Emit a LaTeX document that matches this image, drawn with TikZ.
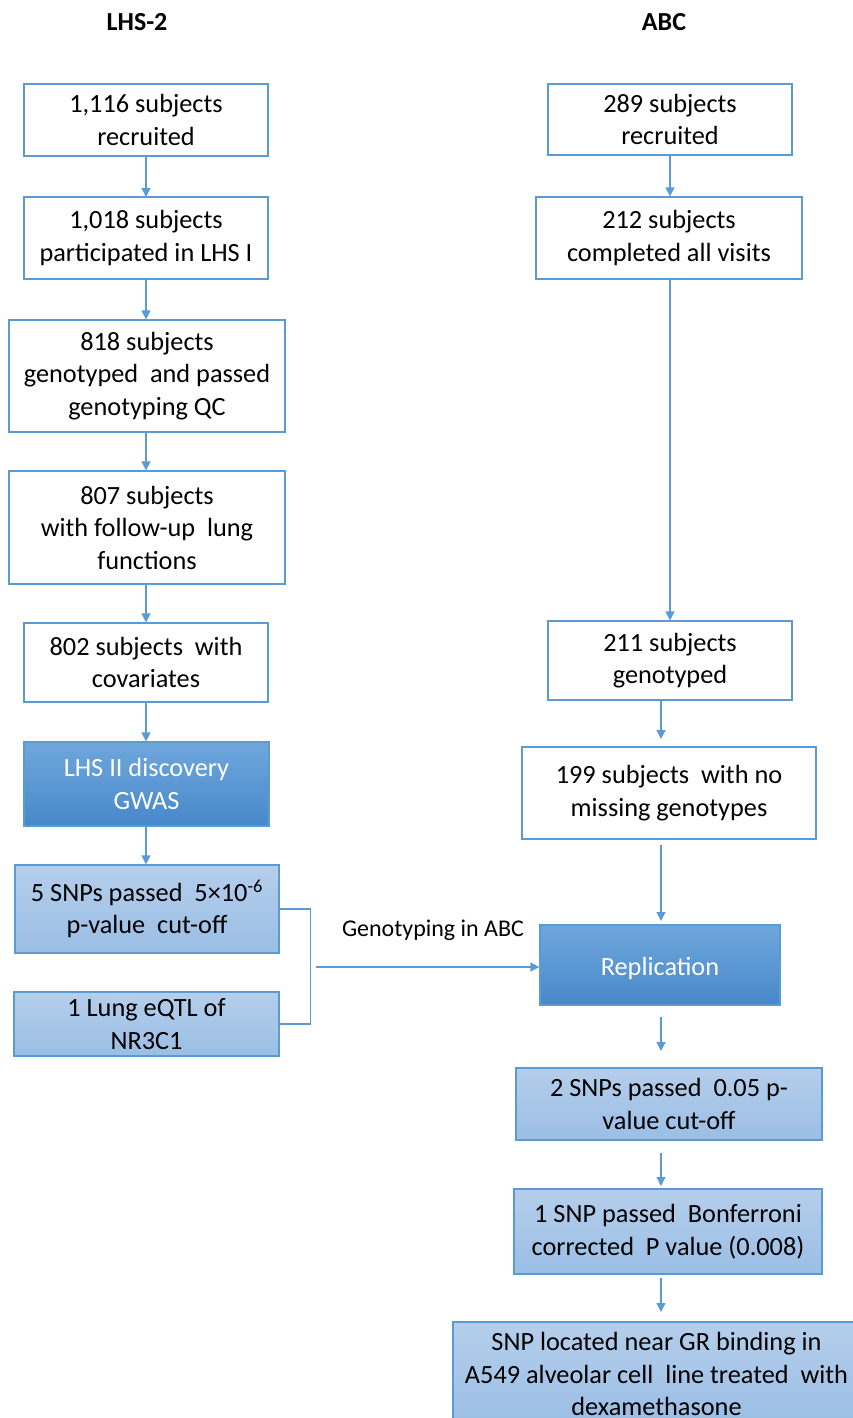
\documentclass[tikz,border=0pt]{standalone}
\usepackage{fontspec}
\setmainfont{Carlito}
\usetikzlibrary{arrows.meta}
\definecolor{boxline}{HTML}{5B9BD5}
\definecolor{arrc}{HTML}{5B9BD5}
\definecolor{dtop}{HTML}{6FA7DC}
\definecolor{dbot}{HTML}{4788CA}
\definecolor{ltop}{HTML}{B5CEEB}
\definecolor{lbot}{HTML}{9ABEE5}
\newcommand\boxfont{\fontsize{26.3}{32.5}\selectfont}
\tikzset{
  box/.style={draw=boxline, line width=1.2pt, fill=white, align=center, inner sep=0pt, font=\boxfont, text=black,
    execute at begin node={\rule{0pt}{25.5pt}}},
  darkbox/.style={box, top color=dtop, bottom color=dbot, text=white},
  lightbox/.style={box, top color=ltop, bottom color=lbot},
  conn/.style={draw=arrc, line width=1.2pt},
  arr/.style={conn, -{Triangle[length=9pt,width=9pt]}},
  ttl/.style={font=\fontsize{26}{30}\selectfont\bfseries, inner sep=0pt},
}
\begin{document}
\begin{tikzpicture}[x=1pt,y=-1pt]
\useasboundingbox (0,0) rectangle (853,1418);
\clip (0,0) rectangle (853,1418);
% titles
\node[ttl] (t1) at (137,22) {LHS-2};
\node[ttl] (t2) at (664,22) {ABC};
% left column
\node[box, minimum width=244, minimum height=72] (B1) at (146,120) {1,116 subjects\\recruited};
\node[box, minimum width=244, minimum height=82] (B2) at (146,238) {1,018 subjects\\participated in LHS I};
\node[box, minimum width=276, minimum height=112] (B3) at (147,376) {818 subjects\\genotyped\ \ and passed\\genotyping QC};
\node[box, minimum width=276, minimum height=113] (B4) at (147,527.5) {807 subjects\\with follow-up\ \ lung\\functions};
\node[box, minimum width=244, minimum height=79] (B5) at (146,662.5) {802 subjects\ \ with\\covariates};
\node[darkbox, minimum width=245, minimum height=84] (B6) at (146.5,784) {LHS II discovery\\GWAS};
\node[lightbox, minimum width=264, minimum height=88] (B7) at (147,909) {5 SNPs passed\ \ 5×10\textsuperscript{-6}\\p-value\ \ cut-off};
\node[lightbox, minimum width=265, minimum height=64] (B8) at (146.5,1024) {1 Lung eQTL of\\NR3C1};
% right column
\node[box, minimum width=244, minimum height=71] (R1) at (670,119.5) {289 subjects\\recruited};
\node[box, minimum width=266, minimum height=82] (R2) at (669,238) {212 subjects\\completed all visits};
\node[box, minimum width=244, minimum height=79] (R3) at (670,660.5) {211 subjects\\genotyped};
\node[box, minimum width=294, minimum height=92] (R4) at (669,793) {199 subjects\ \ with no\\missing genotypes};
\node[darkbox, minimum width=240, minimum height=80] (R5) at (660,965) {Replication};
\node[lightbox, minimum width=306, minimum height=72] (R6) at (669,1104) {2 SNPs passed\ \ 0.05 p-\\value cut-off};
\node[lightbox, minimum width=308, minimum height=85] (R7) at (668,1231.5) {1 SNP passed\ \ Bonferroni\\corrected\ \ P value (0.008)};
\node[lightbox, minimum width=407, minimum height=104] (R8) at (656.5,1374) {SNP located near GR binding in\\A549 alveolar cell\ \ line treated\ \ with\\dexamethasone};
% left arrows
\draw[arr] (146,156) -- (146,197);
\draw[arr] (B2.south) -- (B2.south |- B3.north);
\draw[arr] (B3.south -| B2.south) -- (B2.south |- B4.north);
\draw[arr] (B4.south -| B2.south) -- (B5.north);
\draw[arr] (B5.south) -- (B5.south |- B6.north);
\draw[arr] (B6.south -| B5.south) -- (B5.south |- B7.north);
% bracket and genotyping arrow
\draw[conn] (B7.east) -- ++(31,0) |- (B8.east);
\coordinate (gs) at (316,967);
\draw[arr] (gs) -- (gs -| R5.west);
\node[font=\fontsize{24}{28}\selectfont, inner sep=0pt] (gl) at (433,930) {Genotyping in ABC};
% right arrows
\draw[arr] (R1.south) -- (R1.south |- R2.north);
\draw[arr] (R2.south -| R1.south) -- (R1.south |- R3.north);
\coordinate (a1) at (661,700);
\draw[arr] (a1) -- (661,739);
\coordinate (a2) at (661,845);
\draw[arr] (a2) -- (661,921);
\coordinate (a3) at (661,1017);
\draw[arr] (a3) -- (661,1051);
\coordinate (a4) at (661,1153);
\draw[arr] (a4) -- (661,1186);
\coordinate (a5) at (661,1278);
\draw[arr] (a5) -- (661,1312);
\end{tikzpicture}
\end{document}
